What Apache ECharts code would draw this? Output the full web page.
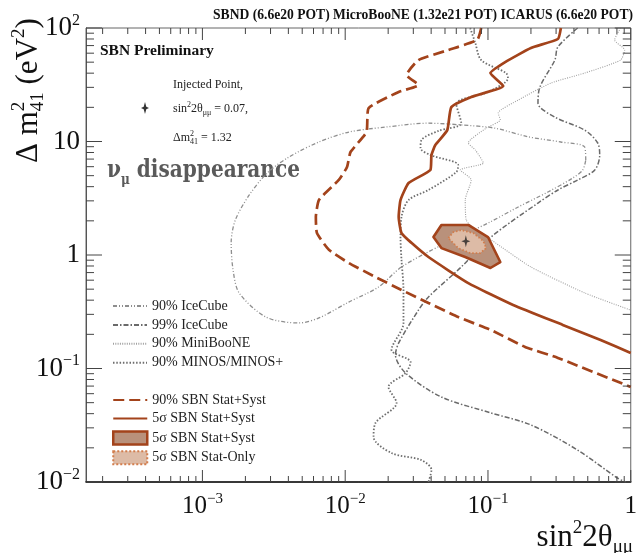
<!DOCTYPE html>
<html><head><meta charset="utf-8">
<script src="https://cdn.jsdelivr.net/npm/echarts@6/dist/echarts.min.js"></script>
<style>html,body{margin:0;padding:0;background:#fff}#c{width:640px;height:553px}</style>
</head><body><div id="c"></div>
<script>
// ---------------- data ----------------
const X_MIN = 1.53e-4, X_MAX = 1, Y_MIN = 0.01, Y_MAX = 100;
const xMajorTicks = [0.001, 0.01, 0.1, 1];
const xMinorTicks = [0.0002,0.0003,0.0004,0.0005,0.0006,0.0007,0.0008,0.0009,
  0.002,0.003,0.004,0.005,0.006,0.007,0.008,0.009,
  0.02,0.03,0.04,0.05,0.06,0.07,0.08,0.09,
  0.2,0.3,0.4,0.5,0.6,0.7,0.8,0.9];
const yMajorTicks = [0.01, 0.1, 1, 10, 100];
const yMinorTicks = [0.02,0.03,0.04,0.05,0.06,0.07,0.08,0.09,
  0.2,0.3,0.4,0.5,0.6,0.7,0.8,0.9,
  2,3,4,5,6,7,8,9,
  20,30,40,50,60,70,80,90];
const xTickLabels = [[0.001,'10','\u22123'],[0.01,'10','\u22122'],[0.1,'10','\u22121'],[1,'1','']];
const yTickLabels = [[0.01,'10','\u22122'],[0.1,'10','\u22121'],[1,'1',''],[10,'10',''],[100,'10','2']];

const iceCube90 = [[0.484,6.87],[0.476,8.95],[0.324,9.90],[0.191,11.0],[0.112,13.1],[0.0650,14.0],[0.0383,14.5],
  [0.0192,13.4],[0.0106,12.1],[0.00655,9.90],[0.00404,7.30],[0.00284,5.27],[0.00213,3.38],[0.00170,2.03],[0.00159,1.28],
  [0.00164,0.738],[0.00181,0.463],[0.00279,0.284],[0.00475,0.252],[0.00655,0.279],[0.0106,0.385],[0.0171,0.522],
  [0.0248,0.784],[0.0472,1.22],[0.100,1.91],[0.163,2.65],[0.263,3.59],[0.393,4.77],[0.461,5.61],[0.484,6.87]];
const iceCube99 = [[0.425,100],[0.309,68.1],[0.294,52.2],[0.231,30.2],[0.224,21.8],[0.294,16.4],[0.476,12.6],
  [0.587,9.70],[0.606,7.60],[0.560,5.61],[0.425,4.58],[0.309,3.74],[0.224,2.87],[0.105,1.44],[0.0650,0.784],
  [0.0383,0.427],[0.0326,0.327],[0.0237,0.168],[0.0225,0.132],[0.0265,0.0912],[0.0472,0.0561],[0.105,0.0406],
  [0.200,0.0318],[0.425,0.0191],[0.809,0.0108],[0.923,0.0100]];
const miniBooNE = [[0.849,100],[0.771,78.4],[0.906,64.0],[0.849,52.2],[0.476,40.1],[0.276,32.7],[0.163,23.2],
  [0.118,17.8],[0.122,15.5],[0.0971,13.1],[0.0728,9.70],[0.0815,8.42],[0.0927,6.47],[0.0640,5.61],[0.0764,4.58],
  [0.0693,3.05],[0.0705,2.03],[0.0854,1.59],[0.105,1.36],[0.200,0.784],[0.476,0.463],[1.0,0.327]];
const minos = [[0.0751,100],[0.0815,73.8],[0.0897,52.2],[0.134,40.1],[0.138,36.2],[0.100,27.3],[0.0600,21.4],
  [0.0650,14.5],[0.0450,12.4],[0.0342,10.3],[0.0337,8.76],[0.0395,7.60],[0.0619,6.21],[0.0600,5.38],[0.0383,3.74],
  [0.0278,3.05],[0.0248,2.16],[0.0244,1.44],[0.0248,0.903],[0.0256,0.492],[0.0256,0.252],[0.0211,0.146],
  [0.0287,0.114],[0.0265,0.0912],[0.0201,0.0687],[0.0229,0.0497],[0.0163,0.0331],[0.0158,0.0249],[0.0211,0.0180],
  [0.0342,0.0156],[0.0402,0.0128],[0.0383,0.0100]];
const sbn90 = [[0.0897,100],[0.0841,78.4],[0.0528,64.0],[0.0326,52.2],[0.0269,38.6],[0.0326,31.4],[0.0237,27.3],
  [0.0146,19.7],[0.0141,12.1],[0.0109,8.08],[0.0103,5.96],[0.00902,4.58],[0.00655,3.05],[0.00623,2.16],
  [0.00634,1.56],[0.00769,1.11],[0.0106,0.851],[0.0163,0.640],[0.0248,0.492],[0.0383,0.378],[0.0619,0.284],
  [0.105,0.218],[0.182,0.155],[0.309,0.124],[1.0,0.0687]];
const sbn5 = [[0.324,100],[0.309,80],[0.200,66.7],[0.132,50.1],[0.104,40.1],[0.128,30.8],[0.0764,24.7],
  [0.0554,20.1],[0.0519,12.6],[0.0428,9.32],[0.0402,7.60],[0.0395,5.61],[0.0278,4.31],[0.0244,3.05],
  [0.0237,2.16],[0.0248,1.56],[0.0291,1.28],[0.0383,0.960],[0.0728,0.566],[0.150,0.363],[0.334,0.242],
  [0.615,0.178],[1.0,0.137]];
const sbn5Region = [[0.0415,1.44],[0.0472,1.84],[0.0728,1.84],[0.100,1.44],[0.122,0.867],[0.104,0.768],
  [0.0693,0.960],[0.0472,1.15]];
const statOnlyRegion = [[0.0528,1.41],[0.0572,1.59],[0.0650,1.66],[0.0789,1.56],[0.0927,1.33],[0.0971,1.15],
  [0.0882,1.04],[0.0751,1.04],[0.0619,1.15]];
const injected = [[0.07, 1.32]];

// ---------------- styling ----------------
const SERIF = 'Liberation Serif';
const SLAB = 'DejaVu Serif';
const BROWN = '#a3431b';
const REGION_FILL = '#b9917b';
const STAT_FILL = '#ddbba6';
const STAT_EDGE = '#d27d4c';
const STAR = 'path://M0,-6 L1.3,-1.3 L5,0 L1.3,1.3 L0,6 L-1.3,1.3 L-5,0 L-1.3,-1.3 Z';

const chart = echarts.init(document.getElementById('c'), null, {renderer: 'canvas'});

const mctx = document.createElement('canvas').getContext('2d');
function fontStr(size, weight, fam) { return (weight || 'normal') + ' ' + size + 'px "' + (fam || SERIF) + '"'; }
function midToBase(size, weight, fam) {
  mctx.font = fontStr(size, weight, fam); mctx.textBaseline = 'middle';
  return mctx.measureText('x').actualBoundingBoxDescent;
}
function textRun(parts, x, y, opt) {
  opt = opt || {};
  let cx = 0, prevStart = 0;
  const kids = [];
  parts.forEach(p => {
    mctx.font = fontStr(p.s, p.w, p.f);
    const w = mctx.measureText(p.t).width;
    let px;
    if (p.stack) { px = prevStart; cx = Math.max(cx, prevStart + w); }
    else { px = cx; prevStart = cx; cx += w; }
    kids.push({type: 'text', x: px, y: (p.dy || 0) - midToBase(p.s, p.w, p.f), silent: true,
      style: {text: p.t, fontSize: p.s, fontFamily: p.f || SERIF, fontWeight: p.w || 'normal',
        fill: p.c || opt.color || '#111', align: 'left', verticalAlign: 'middle',
        textAlign: 'left', textVerticalAlign: 'middle'}});
  });
  let sx = 1;
  if (opt.width) sx = opt.width / cx;
  const off = opt.align === 'right' ? -cx : (opt.align === 'center' ? -cx / 2 : 0);
  kids.forEach(k => k.x += off);
  return {type: 'group', x: x, y: y, rotation: opt.rotation || 0, scaleX: sx, silent: true, children: kids};
}

function labelFmt(list) {
  return function (v) {
    for (const [val, base, sup] of list) {
      if (Math.abs(Math.log10(v) - Math.log10(val)) < 1e-6) return sup ? '{b|' + base + '}{s|' + sup + '}' : '{b|' + base + '}';
    }
    return '';
  };
}
function richFor(size) {
  return {
    b: {fontFamily: SERIF, fontSize: size, color: '#111', lineHeight: size + 4},
    s: {fontFamily: SERIF, fontSize: Math.round(size * 0.6), color: '#111', lineHeight: Math.round(size * 0.6), verticalAlign: 'top'}
  };
}

function regionRenderer(pts, style) {
  return function (params, api) {
    return {type: 'polygon', shape: {points: pts.map(p => api.coord(p))}, style: style};
  };
}
function xTickRenderer(params, api) {
  const cs = params.coordSys;
  const p = api.coord([api.value(0), 1]);
  const len = api.value(2) ? 12 : 6;
  const st = {stroke: '#444', lineWidth: 1};
  const b = cs.y + cs.height;
  return {type: 'group', children: [
    {type: 'line', shape: {x1: p[0], y1: b, x2: p[0], y2: b - len}, style: st},
    {type: 'line', shape: {x1: p[0], y1: cs.y, x2: p[0], y2: cs.y + len}, style: st}]};
}
function yTickRenderer(params, api) {
  const cs = params.coordSys;
  const p = api.coord([0.01, api.value(1)]);
  const len = api.value(2) ? 16 : 8;
  const st = {stroke: '#444', lineWidth: 1};
  const r = cs.x + cs.width;
  return {type: 'group', children: [
    {type: 'line', shape: {x1: cs.x, y1: p[1], x2: cs.x + len, y2: p[1]}, style: st},
    {type: 'line', shape: {x1: r, y1: p[1], x2: r - len, y2: p[1]}, style: st}]};
}

const lineBase = {type: 'line', symbol: 'none', showSymbol: false, silent: true};
const LEG_TEXT = {fontFamily: SERIF, fontSize: 14, color: '#222'};
const NO_SYM = {opacity: 0};

const option = {
  animation: false,
  grid: {left: 86, right: 7, top: 28, bottom: 71, show: true, borderColor: '#666', borderWidth: 1, backgroundColor: 'transparent'},
  xAxis: {type: 'log', logBase: 10, min: X_MIN, max: X_MAX, splitNumber: 4,
    axisLine: {show: true, onZero: false, lineStyle: {color: '#111', width: 1.6}},
    axisTick: {show: false}, splitLine: {show: false}, minorTick: {show: false},
    axisLabel: {show: true, margin: 10, formatter: labelFmt(xTickLabels), rich: richFor(25), hideOverlap: false}},
  yAxis: {type: 'log', logBase: 10, min: Y_MIN, max: Y_MAX, splitNumber: 4,
    axisLine: {show: true, onZero: false, lineStyle: {color: '#555', width: 1}},
    axisTick: {show: false}, splitLine: {show: false}, minorTick: {show: false},
    axisLabel: {show: true, margin: 6, formatter: labelFmt(yTickLabels), rich: richFor(27), hideOverlap: false}},
  legend: [
    {data: ['90% IceCube', '99% IceCube', '90% MiniBooNE', '90% MINOS/MINOS+'],
     orient: 'vertical', left: 112, top: 299, padding: 0, itemWidth: 34, itemHeight: 13, itemGap: 4.9,
     itemStyle: NO_SYM, selectedMode: false, textStyle: LEG_TEXT},
    {data: [{name: '90% SBN Stat+Syst', itemStyle: NO_SYM}, {name: '5\u03c3 SBN Stat+Syst', itemStyle: NO_SYM},
        {name: '5\u03c3 SBN Stat+Syst (region)', icon: 'rect', itemStyle: {opacity: 1, color: REGION_FILL, borderColor: BROWN, borderWidth: 2.5}},
        {name: '5\u03c3 SBN Stat-Only', icon: 'rect', itemStyle: {opacity: 1, color: STAT_FILL, borderColor: STAT_EDGE, borderWidth: 2, borderType: 'dotted'}}],
     orient: 'vertical', left: 112, top: 393, padding: 0, itemWidth: 34, itemHeight: 13, itemGap: 4.6,
     selectedMode: false, formatter: n => n.replace(' (region)', ''), textStyle: LEG_TEXT}
  ],
  series: [
    Object.assign({}, lineBase, {name: '90% IceCube', data: iceCube90, smooth: 0.3, z: 2,
      lineStyle: {color: '#8e8e8e', width: 1.3, type: [4, 2, 1, 2, 1, 2]}, itemStyle: {color: '#8e8e8e'}}),
    Object.assign({}, lineBase, {name: '99% IceCube', data: iceCube99, smooth: 0.3, z: 2,
      lineStyle: {color: '#6a6a6a', width: 1.5, type: [5, 2, 1.5, 2]}, itemStyle: {color: '#6a6a6a'}}),
    Object.assign({}, lineBase, {name: '90% MiniBooNE', data: miniBooNE, smooth: 0.2, z: 2,
      lineStyle: {color: '#a0a0a0', width: 1.1, type: [1, 1.3]}, itemStyle: {color: '#a0a0a0'}}),
    Object.assign({}, lineBase, {name: '90% MINOS/MINOS+', data: minos, smooth: 0.3, z: 2,
      lineStyle: {color: '#6e6e6e', width: 1.8, type: [1.5, 1.8]}, itemStyle: {color: '#6e6e6e'}}),
    Object.assign({}, lineBase, {name: '90% SBN Stat+Syst', data: sbn90, smooth: 0.15, z: 3,
      lineStyle: {color: BROWN, width: 2.7, type: [11, 5]}, itemStyle: {color: BROWN}}),
    Object.assign({}, lineBase, {name: '5\u03c3 SBN Stat+Syst', data: sbn5, smooth: 0.15, z: 3,
      lineStyle: {color: BROWN, width: 2.7}, itemStyle: {color: BROWN}}),
    {type: 'custom', name: '5\u03c3 SBN Stat+Syst (region)', data: [sbn5Region[0]], z: 4, silent: true,
     itemStyle: {color: REGION_FILL},
     renderItem: regionRenderer(sbn5Region, {fill: REGION_FILL, stroke: BROWN, lineWidth: 2.6, lineJoin: 'round'})},
    {type: 'custom', name: '5\u03c3 SBN Stat-Only', data: [statOnlyRegion[0]], z: 5, silent: true,
     itemStyle: {color: STAT_FILL},
     renderItem: regionRenderer(statOnlyRegion, {fill: STAT_FILL, stroke: STAT_EDGE, lineWidth: 1.8, lineDash: [1.5, 2]})},
    {type: 'scatter', name: 'Injected', data: injected, symbol: STAR, symbolSize: [9, 12], z: 6, silent: true,
     itemStyle: {color: '#222'}},
    {type: 'custom', name: 'xticks', z: 7, silent: true, clip: false,
     data: xMajorTicks.map(v => [v, 1, 1]).concat(xMinorTicks.map(v => [v, 1, 0])),
     encode: {x: 0, y: 1}, renderItem: xTickRenderer},
    {type: 'custom', name: 'yticks', z: 7, silent: true, clip: false,
     data: yMajorTicks.map(v => [0.01, v, 1]).concat(yMinorTicks.map(v => [0.01, v, 0])),
     encode: {x: 0, y: 1}, renderItem: yTickRenderer}
  ],
  graphic: [
    textRun([{t: 'SBND (6.6e20 POT) MicroBooNE (1.32e21 POT) ICARUS (6.6e20 POT)', s: 13.6, w: 'bold'}], 633, 19, {align: 'right'}),
    textRun([{t: 'SBN Preliminary', s: 15.5, w: 'bold'}], 100, 55),
    textRun([{t: 'Injected Point,', s: 12}], 173, 88, {color: '#222'}),
    textRun([{t: 'sin', s: 12}, {t: '2', s: 8, dy: -5}, {t: '2\u03b8', s: 12}, {t: '\u03bc\u03bc', s: 8, dy: 3},
      {t: ' = 0.07,', s: 12}], 173, 112, {color: '#222'}),
    textRun([{t: '\u0394m', s: 12}, {t: '2', s: 8, dy: -5}, {t: '41', s: 8, dy: 3, stack: true},
      {t: ' = 1.32', s: 12}], 173, 141, {color: '#222'}),
    {type: 'polygon', x: 145, y: 108, silent: true,
     shape: {points: [[0,-6],[1.3,-1.3],[4,0],[1.3,1.3],[0,6],[-1.3,1.3],[-4,0],[-1.3,-1.3]]}, style: {fill: '#333'}},
    textRun([{t: '\u03bd', s: 25, f: SLAB, w: 'bold'}, {t: '\u03bc', s: 15, f: SLAB, w: 'bold', dy: 7},
      {t: ' disappearance', s: 25, f: SLAB, w: 'bold'}], 107, 177, {color: '#5a5a5a', width: 193}),
    textRun([{t: '\u0394 m', s: 31}, {t: '2', s: 19, dy: -13}, {t: '41', s: 19, dy: 6, stack: true},
      {t: ' (eV', s: 31}, {t: '2', s: 19, dy: -13}, {t: ')', s: 31}], 37, 163, {rotation: Math.PI / 2}),
    textRun([{t: 'sin', s: 31}, {t: '2', s: 19, dy: -13}, {t: '2\u03b8', s: 31}, {t: '\u03bc\u03bc', s: 19, dy: 6}],
      633, 546, {align: 'right'})
  ]
};
chart.setOption(option);
</script></body></html>
